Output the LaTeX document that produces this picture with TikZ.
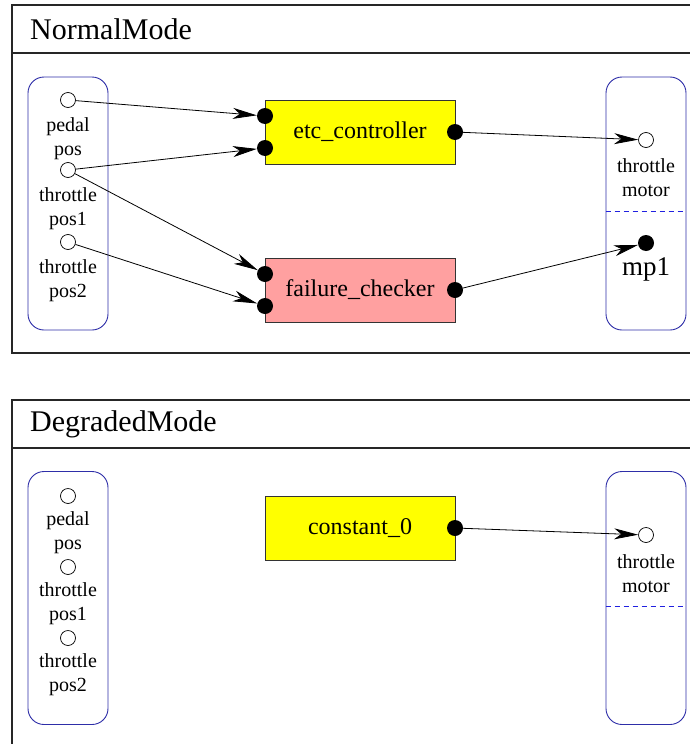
\documentclass[tikz,border=0pt]{standalone}
\usepackage{fontspec}
\setmainfont{Liberation Serif}
\usetikzlibrary{arrows.meta}
\definecolor{ctrlyellow}{HTML}{FFFF00}
\definecolor{checkpink}{HTML}{FFA0A0}
\definecolor{ifaceblue}{HTML}{2E2EA8}
\definecolor{splitblue}{HTML}{2020E0}
\begin{document}
\begin{tikzpicture}[x=1pt,y=-1pt,
  frame/.style={draw=black!85, line width=1.2pt},
  iface/.style={draw=ifaceblue, line width=0.9pt, rounded corners=16pt,
    minimum width=80pt, minimum height=253pt, inner sep=0pt},
  block/.style={draw=black!80, line width=0.8pt, minimum width=190pt,
    minimum height=64pt, inner sep=0pt, font=\fontsize{24}{26}\selectfont},
  inport/.style={circle, draw=black, line width=0.7pt, fill=white,
    minimum size=15pt, inner sep=0pt},
  outport/.style={circle, fill=black, minimum size=16pt, inner sep=0pt},
  sig/.style={draw=black, line width=0.8pt,
    -{Stealth[length=24pt,width=11pt,inset=7pt]}},
  lbl/.style={font=\fontsize{20}{24}\selectfont, align=center, inner sep=0pt},
  title/.style={font=\fontsize{30}{32}\selectfont, anchor=west, inner sep=0pt}]
\useasboundingbox (0,0) rectangle (690,744);
\clip (0,0) rectangle (690,744);
\fill[white] (0,0) rectangle (690,744);

% ---------------- NormalMode ----------------
\draw[frame] (700,5) -- (12,5) -- (12,353) -- (700,353);
\draw[frame] (12,53) -- (700,53);
\node[title] (tNormal) at (30,29) {NormalMode};

\node[iface] (inA) at (68,203.5) {};
\node[iface] (outA) at (646,203.5) {};
\draw[splitblue, dashed, line width=0.8pt, dash pattern=on 5pt off 4pt]
  (outA.west |- 0,211) -- (outA.east |- 0,211);

\node[inport] (pedA) at (68,100) {};
\node[lbl] (pedAl) at (68,139) {pedal\\pos};
\node[inport] (tp1A) at (68,170) {};
\node[lbl] (tp1Al) at (68,208.5) {throttle\\pos1};
\node[inport] (tp2A) at (68,242) {};
\node[lbl] (tp2Al) at (68,280.5) {throttle\\pos2};

\node[inport] (tmA) at (646,140) {};
\node[lbl] (tmAl) at (646,177.5) {throttle\\motor};
\node[outport] (mpA) at (646,243) {};
\node[lbl, font=\fontsize{27}{30}\selectfont] (mpAl) at (646,269) {mp1};

\node[block, fill=ctrlyellow] (etc) at (360,132) {etc\_controller};
\node[outport] (etcI1) at (265,116) {};
\node[outport] (etcI2) at (265,148) {};
\node[outport] (etcO) at (455,132) {};

\node[block, fill=checkpink] (fc) at (360,290) {failure\_checker};
\node[outport] (fcI1) at (265,274) {};
\node[outport] (fcI2) at (265,306) {};
\node[outport] (fcO) at (455,290) {};

\draw[sig] (pedA) -- (etcI1);
\draw[sig] (tp1A) -- (etcI2);
\draw[sig] (tp1A) -- (fcI1);
\draw[sig] (tp2A) -- (fcI2);
\draw[sig] (etcO) -- (tmA);
\draw[sig] (fcO) -- (mpA);

% ---------------- DegradedMode ----------------
\draw[frame] (700,400) -- (12,400) -- (12,760);
\draw[frame] (12,448) -- (700,448);
\node[title] (tDegraded) at (30,424) {DegradedMode};

\node[iface] (inB) at (68,598) {};
\node[iface] (outB) at (646,598) {};
\draw[splitblue, dashed, line width=0.8pt, dash pattern=on 5pt off 4pt]
  (outB.west |- 0,606) -- (outB.east |- 0,606);

\node[inport] (pedB) at (68,496) {};
\node[lbl] (pedBl) at (68,533) {pedal\\pos};
\node[inport] (tp1B) at (68,567) {};
\node[lbl] (tp1Bl) at (68,604) {throttle\\pos1};
\node[inport] (tp2B) at (68,638) {};
\node[lbl] (tp2Bl) at (68,675) {throttle\\pos2};

\node[inport] (tmB) at (646,535) {};
\node[lbl] (tmBl) at (646,573.5) {throttle\\motor};

\node[block, fill=ctrlyellow] (const) at (360,528) {constant\_0};
\node[outport] (constO) at (455,528) {};

\draw[sig] (constO) -- (tmB);
\end{tikzpicture}
\end{document}
